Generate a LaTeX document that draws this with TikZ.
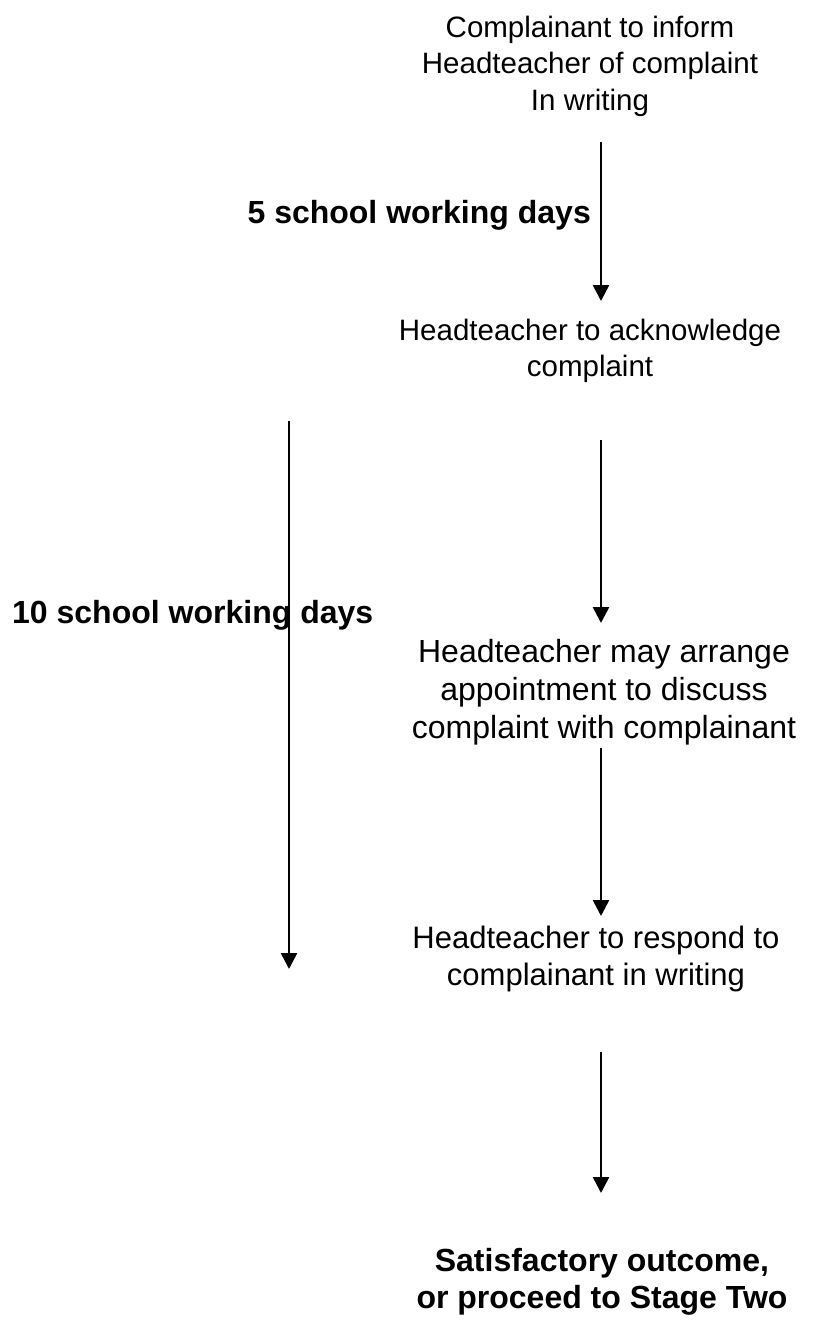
\documentclass[tikz,border=0pt]{standalone}
\usepackage{fontspec}
\setmainfont{Liberation Sans}
\usetikzlibrary{arrows.meta}

\newlength{\du}
\setlength{\du}{1pt}

\tikzset{
  steptext/.style={align=center, inner sep=0pt, font=\fontsize{29.5}{36.5}\selectfont},
  bigtext/.style={align=center, inner sep=0pt, font=\fontsize{32}{38}\selectfont},
  daystext/.style={inner sep=0pt, font=\fontsize{32}{37}\selectfont\bfseries},
  flowarrow/.style={line width=2.6\du, -{Triangle[width=16pt,length=16pt]}}
}

\begin{document}
\begin{tikzpicture}
\pgftransformxscale{1.000000}
\pgftransformyscale{-1.000000}
\useasboundingbox (0\du,0\du) rectangle (813\du,1331\du);
% the steps
\node[steptext] (inform) at (590\du,66\du){Complainant to inform\\Headteacher of complaint\\In writing};
\node[steptext] (acknowledge) at (590\du,351\du){Headteacher to acknowledge\\complaint};
\node[bigtext] (meeting) at (604\du,692\du){Headteacher may arrange\\appointment to discuss\\complaint with complainant};
\node[steptext, font=\fontsize{31}{37}\selectfont] (respond) at (596\du,959\du){Headteacher to respond to\\complainant in writing};
\node[daystext, align=center] (outcome) at (602\du,1282\du){Satisfactory outcome,\\or proceed to Stage Two};
% time limits
\node[daystext, anchor=east] (fivedays) at (591\du,215\du){5 school working days};
\node[daystext, anchor=west] (tendays) at (12\du,615\du){10 school working days};
% arrow ends
\coordinate (a1) at (601\du,142\du);
\coordinate (b1) at (601\du,301\du);
\coordinate (a2) at (601\du,440\du);
\coordinate (b2) at (601\du,623\du);
\coordinate (a3) at (601\du,748\du);
\coordinate (b3) at (601\du,916\du);
\coordinate (a4) at (601\du,1052\du);
\coordinate (b4) at (601\du,1193\du);
\coordinate (t1) at (289\du,421\du);
\coordinate (t2) at (289\du,969\du);
\draw[flowarrow] (a1)--(b1);
\draw[flowarrow] (a2)--(b2);
\draw[flowarrow] (a3)--(b3);
\draw[flowarrow] (a4)--(b4);
\draw[flowarrow] (t1)--(t2);
\end{tikzpicture}
\end{document}
